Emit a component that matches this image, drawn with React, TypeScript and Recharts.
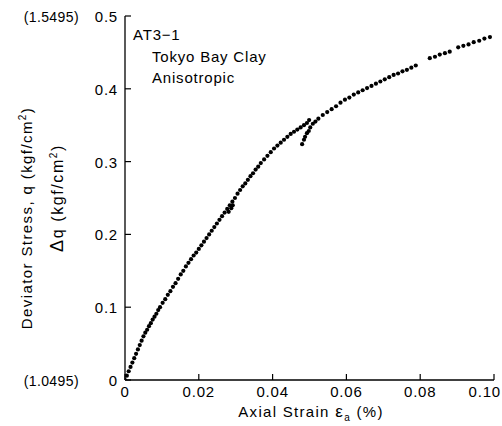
import React from "react";
import { ScatterChart, Scatter, XAxis, YAxis, Customized } from "recharts";

// Axial strain (%) readings
const strain = [
  0.0, 0.0005, 0.001, 0.0015, 0.002, 0.0025, 0.003, 0.0035, 0.004, 0.0045,
  0.005, 0.0055, 0.006, 0.0065, 0.007, 0.0075, 0.008, 0.0085, 0.009, 0.0095,
  0.0102, 0.0109, 0.0116, 0.0123, 0.013, 0.0137, 0.0144, 0.0151, 0.0158, 0.0165,
  0.0172, 0.0179, 0.0186, 0.0193, 0.02, 0.0207, 0.0214, 0.0221, 0.0228,
  0.0235, 0.0242, 0.0249, 0.0256, 0.0263, 0.027, 0.0277, 0.0281, 0.0284, 0.0288,
  0.0291, 0.0292, 0.0298, 0.0305, 0.0312, 0.0319, 0.0326, 0.0333, 0.034, 0.0347,
  0.0354, 0.0361, 0.0368,
  0.0377, 0.0386, 0.0395, 0.0404, 0.0413, 0.0422, 0.0431, 0.044, 0.0449, 0.0458,
  0.0467, 0.0476, 0.0485, 0.0493, 0.0499,
  0.048, 0.0485, 0.0488, 0.0493, 0.0498, 0.0502, 0.0509, 0.0516,
  0.0524, 0.0536, 0.0548, 0.056, 0.0572, 0.0584, 0.0596, 0.0608, 0.062, 0.0632,
  0.0644, 0.0656, 0.0668, 0.068, 0.0692, 0.0704, 0.0716, 0.0728, 0.074, 0.0752,
  0.0764, 0.0776, 0.0788,
  0.0826, 0.084, 0.0853, 0.0867, 0.088,
  0.0903, 0.0917, 0.0931, 0.0945, 0.096, 0.0974, 0.0989,
];

// Deviator stress increment Δq (kgf/cm²) readings
const deltaQ = [
  0.0, 0.006, 0.012, 0.018, 0.024, 0.03, 0.036, 0.042, 0.048, 0.054,
  0.06, 0.065, 0.069, 0.074, 0.078, 0.083, 0.087, 0.091, 0.096, 0.1,
  0.106, 0.111, 0.117, 0.122, 0.128, 0.133, 0.139, 0.145, 0.15, 0.156,
  0.161, 0.166, 0.171, 0.175, 0.18, 0.185, 0.19, 0.195, 0.2,
  0.205, 0.21, 0.215, 0.22, 0.225, 0.23, 0.235, 0.231, 0.24, 0.236,
  0.245, 0.24, 0.25, 0.256, 0.261, 0.266, 0.27, 0.275, 0.28, 0.284,
  0.289, 0.293, 0.298,
  0.303, 0.308, 0.313, 0.318, 0.322, 0.326, 0.33, 0.334, 0.338, 0.341,
  0.344, 0.347, 0.35, 0.353, 0.357,
  0.324, 0.33, 0.334, 0.339, 0.342, 0.347, 0.352, 0.355,
  0.359, 0.364, 0.368, 0.372, 0.376, 0.381, 0.385, 0.388, 0.392, 0.395,
  0.398, 0.401, 0.404, 0.407, 0.41, 0.413, 0.416, 0.419, 0.421, 0.424,
  0.426, 0.429, 0.432,
  0.442, 0.444, 0.447, 0.449, 0.451,
  0.457, 0.459, 0.461, 0.464, 0.466, 0.469, 0.471,
];

const xTicks = [0, 0.02, 0.04, 0.06, 0.08, 0.1];
const xTickLabels = ["0", "0.02", "0.04", "0.06", "0.08", "0.10"];
const yTicks = [0, 0.1, 0.2, 0.3, 0.4, 0.5];
const yTickLabels = ["0", "0.1", "0.2", "0.3", "0.4", "0.5"];
const absoluteQLabels: Record<string, string> = { "0": "(1.0495)", "0.5": "(1.5495)" };
const annotations = ["AT3\u22121", "Tokyo Bay Clay", "Anisotropic"];

const data = strain.map((x, i) => ({ x, y: deltaQ[i] }));

const FONT = "'Liberation Sans', Arial, Helvetica, sans-serif";
const TXT = { fontFamily: FONT, fontSize: 15, fill: "#000", letterSpacing: 0.8 } as const;

const BottomTick = (props: any) => {
  const { x, y, payload } = props;
  const i = xTicks.indexOf(payload.value);
  const last = i === xTicks.length - 1;
  return (
    <g>
      <line x1={x} y1={y} x2={x} y2={y - 6} stroke="#000" strokeWidth={1.2} />
      <text x={last ? x + 7 : x} y={y + 17} textAnchor={last ? "end" : "middle"} {...TXT}>
        {xTickLabels[i]}
      </text>
    </g>
  );
};

const TopTick = (props: any) => {
  const { x, y } = props;
  return <line x1={x} y1={y} x2={x} y2={y + 6} stroke="#000" strokeWidth={1.2} />;
};

const LeftTick = (props: any) => {
  const { x, y, payload } = props;
  const i = yTicks.indexOf(payload.value);
  const base = absoluteQLabels[String(payload.value)];
  return (
    <g>
      <line x1={x} y1={y} x2={x + 6} y2={y} stroke="#000" strokeWidth={1.2} />
      <text x={x - 7} y={y + 6} textAnchor="end" {...TXT}>
        {yTickLabels[i]}
      </text>
      {base ? (
        <text x={x - 46} y={y + 6} textAnchor="end" {...TXT} fontSize={14} letterSpacing={0.4}>
          {base}
        </text>
      ) : null}
    </g>
  );
};

const RightTick = (props: any) => {
  const { x, y } = props;
  return <line x1={x} y1={y} x2={x - 6} y2={y} stroke="#000" strokeWidth={1.2} />;
};

const Dot = (props: any) => <circle cx={props.cx} cy={props.cy} r={2.1} fill="#000" />;

const Texts = () => (
  <g>
    <text x={133} y={40} {...TXT}>{annotations[0]}</text>
    <text x={152} y={62} {...TXT}>{annotations[1]}</text>
    <text x={152} y={83} {...TXT}>{annotations[2]}</text>
    <text x={311} y={417} textAnchor="middle" {...TXT} letterSpacing={1.3}>
      Axial Strain <tspan fontSize={17}>ε</tspan>
      <tspan fontSize={10} dy={4}>a</tspan>
      <tspan dy={-4}> (%)</tspan>
    </text>
    <text transform="translate(32,218) rotate(-90)" textAnchor="middle" {...TXT} letterSpacing={1.4}>
      Deviator Stress, q (kgf/cm<tspan fontSize={10} dy={-6}>2</tspan>
      <tspan dy={6}>)</tspan>
    </text>
    <text transform="translate(63,198) rotate(-90)" textAnchor="middle" {...TXT} fontSize={16} letterSpacing={1.6}>
      <tspan fontSize={18}>Δ</tspan>q (kgf/cm<tspan fontSize={10} dy={-6}>2</tspan>
      <tspan dy={6}>)</tspan>
    </text>
  </g>
);

export default function App() {
  return (
    <div style={{ position: "absolute", left: 0, top: 0, background: "#fff" }}>
      <ScatterChart width={502} height={426} margin={{ top: 16, right: 8, bottom: 0, left: 0 }}>
        <XAxis
          xAxisId="b"
          dataKey="x"
          type="number"
          domain={[0, 0.1]}
          ticks={xTicks}
          allowDataOverflow
          height={46}
          tickSize={0}
          tickMargin={0}
          tickLine={false}
          axisLine={{ stroke: "#000", strokeWidth: 1.3 }}
          tick={<BottomTick />}
          interval={0}
        />
        <XAxis
          xAxisId="t"
          orientation="top"
          dataKey="x"
          type="number"
          domain={[0, 0.1]}
          ticks={xTicks}
          allowDataOverflow
          height={0}
          tickSize={0}
          tickMargin={0}
          tickLine={false}
          axisLine={{ stroke: "#000", strokeWidth: 1.3 }}
          tick={<TopTick />}
          interval={0}
        />
        <YAxis
          yAxisId="l"
          dataKey="y"
          type="number"
          domain={[0, 0.5]}
          ticks={yTicks}
          allowDataOverflow
          width={125}
          tickSize={0}
          tickMargin={0}
          tickLine={false}
          axisLine={{ stroke: "#000", strokeWidth: 1.3 }}
          tick={<LeftTick />}
          interval={0}
        />
        <YAxis
          yAxisId="r"
          orientation="right"
          dataKey="y"
          type="number"
          domain={[0, 0.5]}
          ticks={yTicks}
          allowDataOverflow
          width={0}
          tickSize={0}
          tickMargin={0}
          tickLine={false}
          axisLine={{ stroke: "#000", strokeWidth: 1.3 }}
          tick={<RightTick />}
          interval={0}
        />
        <Scatter xAxisId="t" yAxisId="r" data={data} shape={() => null} isAnimationActive={false} />
        <Scatter xAxisId="b" yAxisId="l" data={data} shape={<Dot />} isAnimationActive={false} />
        <Customized component={Texts} />
      </ScatterChart>
    </div>
  );
}
